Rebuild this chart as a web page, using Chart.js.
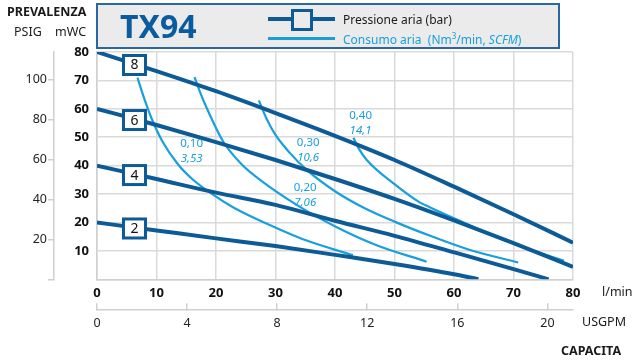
<!DOCTYPE html>
<html>
<head>
<meta charset="utf-8">
<script src="https://cdn.jsdelivr.net/npm/chart.js@4.4.1/dist/chart.umd.min.js"></script>
<style>
  html, body { margin: 0; padding: 0; background: #fff; }
  #wrap { position: relative; width: 633px; height: 362px; font-family: "Noto Sans", sans-serif; overflow: hidden; }
  #chart { position: absolute; left: 0; top: 0; }
  .t { position: absolute; white-space: nowrap; line-height: 1; }
  #legendBox { position: absolute; left: 96px; top: 3px; width: 460px; height: 42px; background: #ebebeb; border: 2px solid #2a66a0; }
  .ln { position: absolute; }
</style>
</head>
<body>
<div id="wrap">
  <canvas id="chart" width="633" height="362"></canvas>
  <div id="legendBox"></div>
  <div class="ln" style="left:268px;top:17px;width:67px;height:4px;background:#0d5b96"></div>
  <div class="ln" style="left:291px;top:9px;width:16px;height:16px;background:#ebebeb;border:3px solid #0d5b96"></div>
  <div class="ln" style="left:268px;top:37px;width:67px;height:2.5px;background:#19a0dc"></div>
</div>
<script>
// --- data (x = l/min, y = mWC) ---
const pressureNames = ['8', '6', '4', '2'];
const bar8 = [[0, 80], [10, 73.3], [20, 66.2], [30, 58.5], [40, 50.5], [50, 42], [60, 32.6], [70, 22.9], [80, 12.9]];
const bar6 = [[0, 60], [10, 54.3], [20, 48.3], [30, 42], [40, 35.3], [50, 28.3], [60, 20.7], [70, 12.7], [80, 4.4]];
const bar4 = [[0, 40], [10, 35.3], [20, 30.5], [30, 26.2], [40, 20.6], [50, 15.3], [60, 9.5], [70, 3.6], [75.9, 0]];
const bar2 = [[0, 20], [10, 17.2], [20, 14.4], [30, 11.7], [40, 8.6], [50, 5.4], [60, 1.8], [64.1, 0]];

const air010 = [[6.8, 71], [7.8, 64.5], [9.2, 56.5], [11, 48.5], [13.6, 40.5], [16, 35.3], [19, 30.5], [23, 25.2], [28.2, 19.9], [35, 13.8], [43, 8.5]];
const air020 = [[16.4, 71.2], [17.3, 66], [18.5, 60], [21.2, 48.5], [24.3, 40.5], [27.4, 35], [34.1, 25.5], [40.8, 17.8], [47, 12], [55.4, 6.2]];
const air030 = [[27.2, 63], [28.5, 56.5], [30, 50.8], [32.4, 44.5], [35.2, 38.6], [40, 31], [45, 25], [50, 20.3], [56, 15.3], [62.7, 10.3], [70.8, 5.9]];
const air040 = [[43.1, 49.8], [44, 46], [45.3, 42.1], [50, 33.5], [54.3, 27], [56, 25.3], [60, 21.5], [68.2, 14], [78.5, 6.5]];
const airLabels = [['0,10', '3,53'], ['0,20', '7,06'], ['0,30', '10,6'], ['0,40', '14,1']];

const mwcTicks = [0, 10, 20, 30, 40, 50, 60, 70, 80];
const psigTicks = [0, 20, 40, 60, 80, 100];
const lpmTicks = [0, 10, 20, 30, 40, 50, 60, 70, 80];
const gpmTicks = [0, 4, 8, 12, 16, 20];

// annotation anchors (data coords) and box label x
const airLabelAt = [[15.9, 47.6], [35.0, 32.1], [35.5, 48.0], [44.3, 57.6]];
const boxLabelX = 6.3;

const DARK = '#0d5b96';
const LIGHT = '#19a0dc';
const FONT = '"Noto Sans", sans-serif';

// --- html text ---
const wrap = document.getElementById('wrap');
function txt(str, x, cy, size, opts = {}) {
    const d = document.createElement('div');
    d.className = 't';
    d.innerHTML = str;
    d.style.fontSize = size + 'px';
    d.style.top = (cy - 0.53 * size) + 'px';
    d.style.left = x + 'px';
    if (opts.bold) d.style.fontWeight = 'bold';
    d.style.color = opts.color || '#1a1a1a';
    wrap.appendChild(d);
    return d;
}
txt('PREVALENZA', 7, 12.5, 12.5, { bold: true });
txt('PSIG', 14, 33, 12.5);
txt('mWC', 55, 33, 12.5);
txt('TX94', 120, 26.5, 32, { bold: true, color: '#0b5c9e' });
txt('Pressione aria (bar)', 343, 20, 12);
txt('Consumo aria&nbsp; (Nm<sup style="font-size:8px">3</sup>/min, <i>SCFM</i>)', 343, 38.5, 12, { color: LIGHT });
txt('l/min', 602, 293, 12.5);
txt('USGPM', 582, 323, 12.5);
txt('CAPACITA', 561, 352, 12.5, { bold: true });

function toXY(arr) { return arr.map(p => ({ x: p[0], y: p[1] })); }
function lineSet(arr, color, width, order) {
    return {
        data: toXY(arr), borderColor: color, borderWidth: width, pointRadius: 0,
        cubicInterpolationMode: 'monotone', fill: false, order: order
    };
}

// box labels on pressure lines + consumption texts
const annotations = {
    id: 'annotations',
    afterDatasetsDraw(chart) {
        const ctx = chart.ctx;
        const xs = chart.scales.x, ys = chart.scales.y;
        ctx.save();
        ctx.textAlign = 'center';
        ctx.textBaseline = 'middle';
        for (let i = 0; i < 4; i++) {
            const d = chart.data.datasets[i].data;
            let yv = d[0].y;
            for (let k = 1; k < d.length; k++) {
                if (d[k].x >= boxLabelX) {
                    const a = d[k - 1], b = d[k];
                    yv = a.y + (b.y - a.y) * (boxLabelX - a.x) / (b.x - a.x);
                    break;
                }
            }
            const px = xs.getPixelForValue(boxLabelX), py = ys.getPixelForValue(yv) + 1;
            ctx.fillStyle = '#fff';
            ctx.fillRect(px - 11, py - 9.5, 22, 19);
            ctx.strokeStyle = DARK;
            ctx.lineWidth = 3;
            ctx.strokeRect(px - 11, py - 9.5, 22, 19);
            ctx.fillStyle = '#111';
            ctx.font = '14px ' + FONT;
            ctx.fillText(pressureNames[i], px, py + 0.5);
        }
        ctx.fillStyle = LIGHT;
        airLabels.forEach((lab, i) => {
            const px = xs.getPixelForValue(airLabelAt[i][0]);
            const py = ys.getPixelForValue(airLabelAt[i][1]);
            ctx.font = '11.5px ' + FONT;
            ctx.fillText(lab[0], px, py);
            ctx.font = 'italic 11.5px ' + FONT;
            ctx.fillText(lab[1], px, py + 15);
        });
        ctx.restore();
    }
};

const ctx = document.getElementById('chart').getContext('2d');
const chart = new Chart(ctx, {
    type: 'line',
    data: {
        datasets: [
            lineSet(bar8, DARK, 4, 0), lineSet(bar6, DARK, 4, 0),
            lineSet(bar4, DARK, 4, 0), lineSet(bar2, DARK, 4, 0),
            lineSet(air010, LIGHT, 2.2, 1), lineSet(air020, LIGHT, 2.2, 1),
            lineSet(air030, LIGHT, 2.2, 1), lineSet(air040, LIGHT, 2.2, 1)
        ]
    },
    options: {
        responsive: false,
        animation: false,
        layout: { padding: { top: 52, right: 60, bottom: 22.7, left: 0 } },
        plugins: { legend: { display: false }, tooltip: { enabled: false } },
        scales: {
            x: {
                type: 'linear', position: 'bottom', min: 0, max: 80, weight: 0,
                afterBuildTicks: s => { s.ticks = lpmTicks.map(v => ({ value: v })); },
                grid: { color: '#dadada', lineWidth: 1.5, drawTicks: false },
                border: { color: '#cfcfcf', width: 1.5 },
                ticks: { padding: 6.5, color: '#111', maxRotation: 0, autoSkip: false, font: { family: FONT, size: 13, weight: 'bold' } },
                afterFit: s => { s.height = 30; }
            },
            gpm: {
                type: 'linear', position: 'bottom', min: 0, max: 80 / 3.785, weight: 1,
                afterBuildTicks: s => { s.ticks = gpmTicks.map(v => ({ value: v })); },
                grid: { drawOnChartArea: false, tickLength: -6, color: '#cfcfcf', lineWidth: 1.5 },
                border: { color: '#cfcfcf', width: 1.5 },
                ticks: { padding: 12.3, color: '#222', maxRotation: 0, autoSkip: false, font: { family: FONT, size: 12.5 } },
                afterFit: s => { s.height = 30; }
            },
            y: {
                type: 'linear', position: 'left', min: 0, max: 80, weight: 0,
                afterBuildTicks: s => { s.ticks = mwcTicks.map(v => ({ value: v })); },
                grid: { color: '#dadada', lineWidth: 1.5, drawTicks: false },
                border: { color: '#cfcfcf', width: 1.5 },
                ticks: { padding: 8, color: '#111', callback: v => v === 0 ? '' : v, font: { family: FONT, size: 13, weight: 'bold' } },
                afterFit: s => { s.width = 43; }
            },
            psig: {
                type: 'linear', position: 'left', min: 0, max: 80 / 0.70307, weight: 1,
                afterBuildTicks: s => { s.ticks = psigTicks.map(v => ({ value: v })); },
                grid: { drawOnChartArea: false, tickLength: 6, color: '#cfcfcf', lineWidth: 1.5 },
                border: { color: '#cfcfcf', width: 1.5 },
                ticks: { padding: 1, color: '#222', callback: v => v === 0 ? '' : v, font: { family: FONT, size: 12.5 } },
                afterFit: s => { s.width = 54; }
            }
        }
    },
    plugins: [annotations]
});
</script>
</body>
</html>
